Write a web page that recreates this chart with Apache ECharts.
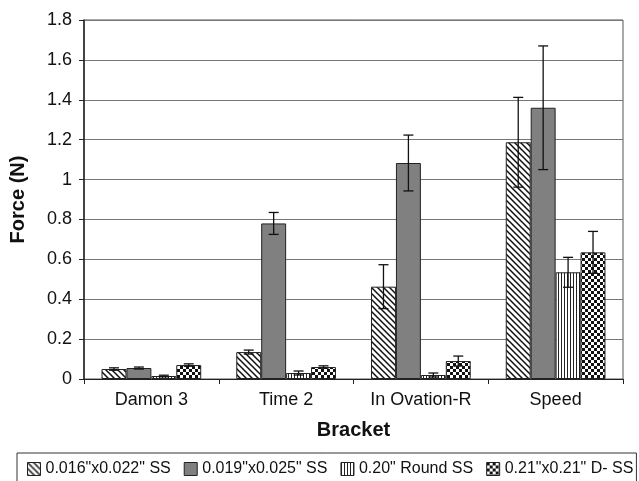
<!DOCTYPE html>
<html><head><meta charset="utf-8">
<script src="https://cdn.jsdelivr.net/npm/echarts@6/dist/echarts.min.js"></script>
<style>html,body{margin:0;padding:0;background:#fff}#c{width:639px;height:481px}</style>
</head><body><div id="c"></div>
<script>
const categories = ['Damon 3', 'Time 2', 'In Ovation-R', 'Speed'];
const seriesNames = ['0.016"x0.022" SS', '0.019"x0.025" SS', '0.20" Round SS', '0.21"x0.21" D- SS'];
const s1 = [0.05, 0.135, 0.463, 1.187];
const s2 = [0.055, 0.78, 1.083, 1.36];
const s3 = [0.015, 0.03, 0.02, 0.535];
const s4 = [0.07, 0.06, 0.09, 0.635];
const e1 = [0.006, 0.01, 0.11, 0.225];
const e2 = [0.005, 0.055, 0.14, 0.31];
const e3 = [0.004, 0.01, 0.01, 0.075];
const e4 = [0.006, 0.006, 0.025, 0.105];
const values = [s1, s2, s3, s4];
const errors = [e1, e2, e3, e4];
const yTicks = [0, 0.2, 0.4, 0.6, 0.8, 1, 1.2, 1.4, 1.6, 1.8];

function mkPattern(kind) {
  const c = document.createElement('canvas');
  const ctx = c.getContext('2d');
  if (kind === 'diag') {
    const s = 6; c.width = s; c.height = s;
    ctx.fillStyle = '#fff'; ctx.fillRect(0, 0, s, s);
    ctx.strokeStyle = '#111'; ctx.lineWidth = 1.5;
    ctx.beginPath();
    ctx.moveTo(-1, -1); ctx.lineTo(s + 1, s + 1);
    ctx.moveTo(-1 - s, -1); ctx.lineTo(1, s + 1);
    ctx.moveTo(s - 1, -1); ctx.lineTo(2 * s + 1, s + 1);
    ctx.stroke();
  } else if (kind === 'vert') {
    c.width = 3; c.height = 3;
    ctx.fillStyle = '#fff'; ctx.fillRect(0, 0, 3, 3);
    ctx.fillStyle = '#222'; ctx.fillRect(0, 0, 1, 3);
  } else if (kind === 'check') {
    c.width = 6; c.height = 6;
    ctx.fillStyle = '#fff'; ctx.fillRect(0, 0, 6, 6);
    ctx.fillStyle = '#111'; ctx.fillRect(0, 0, 3, 3); ctx.fillRect(3, 3, 3, 3);
  }
  return { image: c, repeat: 'repeat' };
}
const fills = [mkPattern('diag'), '#808080', mkPattern('vert'), mkPattern('check')];
const catGap = 0.26;
const FONT = 'Liberation Sans, Arial, sans-serif';

const chart = echarts.init(document.getElementById('c'), null, { renderer: 'canvas' });
const series = [];
for (let i = 0; i < 4; i++) {
  series.push({
    name: seriesNames[i], type: 'bar', data: values[i],
    barGap: '0%', barCategoryGap: (catGap * 100) + '%',
    itemStyle: { color: fills[i], borderColor: '#222', borderWidth: 1 },
    emphasis: { disabled: true }, animation: false
  });
}
const errData = [];
for (let i = 0; i < 4; i++) for (let j = 0; j < 4; j++) errData.push([j, values[i][j], errors[i][j], i]);
series.push({
  type: 'custom', z: 10, animation: false, silent: true,
  encode: { x: 0, y: 1 },
  data: errData,
  renderItem: function (params, api) {
    const j = api.value(0), v = api.value(1), e = api.value(2), i = api.value(3);
    const band = api.size([1, 0])[0];
    const bw = band * (1 - catGap) / 4;
    const c = api.coord([j, v]);
    const x = c[0] + (i - 1.5) * bw;
    const yt = api.coord([j, v + e])[1];
    const yb = api.coord([j, v - e])[1];
    const cap = 5;
    const st = { stroke: '#111', lineWidth: 1.3 };
    return { type: 'group', children: [
      { type: 'line', shape: { x1: x, y1: yt, x2: x, y2: yb }, style: st },
      { type: 'line', shape: { x1: x - cap, y1: yt, x2: x + cap, y2: yt }, style: st },
      { type: 'line', shape: { x1: x - cap, y1: yb, x2: x + cap, y2: yb }, style: st }
    ]};
  }
});

chart.setOption({
  backgroundColor: '#fff',
  animation: false,
  textStyle: { fontFamily: FONT },
  grid: { left: 83, right: 16, top: 20, bottom: 102, show: true, borderColor: '#555', borderWidth: 1 },
  legend: {
    data: seriesNames, top: 453, left: 17,
    itemWidth: 13, itemHeight: 13, itemGap: 13,
    borderColor: '#333', borderWidth: 1, padding: [8, 3, 8, 10],
    textStyle: { fontSize: 16, color: '#111', fontFamily: FONT },
    icon: 'rect',
    itemStyle: { borderColor: '#222', borderWidth: 1 }
  },
  xAxis: {
    type: 'category', data: categories,
    name: 'Bracket', nameLocation: 'middle', nameGap: 41,
    nameTextStyle: { fontSize: 20, fontWeight: 'bold', color: '#111' },
    axisLine: { lineStyle: { color: '#222', width: 1 } },
    axisTick: { show: true, length: 5, lineStyle: { color: '#222' } },
    axisLabel: { fontSize: 18, color: '#111', margin: 12 }
  },
  yAxis: {
    type: 'value', min: 0, max: 1.8, interval: 0.2,
    name: 'Force (N)', nameLocation: 'middle', nameGap: 56,
    nameTextStyle: { fontSize: 20, fontWeight: 'bold', color: '#111' },
    axisLine: { show: true, lineStyle: { color: '#222', width: 1.5 } },
    axisTick: { show: true, length: 5, lineStyle: { color: '#222' } },
    axisLabel: { fontSize: 18, color: '#111', margin: 12,
      formatter: function (v) { return String(yTicks.find(t => Math.abs(t - v) < 1e-9) ?? +v.toFixed(1)); } },
    splitLine: { lineStyle: { color: '#777', width: 1.2 } }
  },
  series: series
});
</script></body></html>
